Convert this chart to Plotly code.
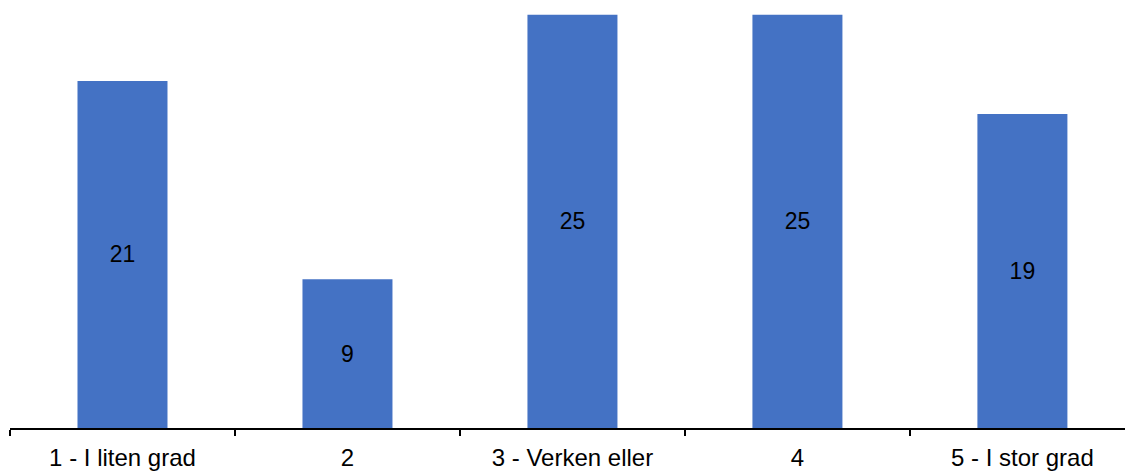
import plotly.graph_objects as go

categories = ["1 - I liten grad", "2", "3 - Verken eller", "4", "5 - I stor grad"]
values = [21, 9, 25, 25, 19]

bar_color = "#4472C4"
font_family = "Arial, Liberation Sans, sans-serif"

fig = go.Figure(
    go.Bar(
        x=categories,
        y=values,
        width=0.4,
        marker=dict(color=bar_color, line=dict(width=0)),
        text=[str(v) for v in values],
        textposition="inside",
        insidetextanchor="middle",
        textangle=0,
        textfont=dict(family=font_family, size=23, color="black"),
        hoverinfo="x+y",
    )
)

fig.update_layout(
    width=1125,
    height=471,
    margin=dict(l=10, r=0, t=0, b=41),
    paper_bgcolor="white",
    plot_bgcolor="white",
    showlegend=False,
    font=dict(family=font_family, size=23, color="black"),
    uniformtext=dict(minsize=23, mode="show"),
)

fig.update_xaxes(
    type="category",
    range=[-0.5, 4.456],
    showline=True,
    linecolor="black",
    linewidth=1.5,
    ticks="outside",
    tickson="boundaries",
    ticklen=6,
    tickwidth=1.5,
    tickcolor="black",
    ticklabelstandoff=7,
    tickfont=dict(family=font_family, size=24, color="black"),
    showgrid=False,
    zeroline=False,
)

fig.update_yaxes(
    range=[0, 25.9],
    visible=False,
    showgrid=False,
    zeroline=False,
)

fig.write_html("out.html")
